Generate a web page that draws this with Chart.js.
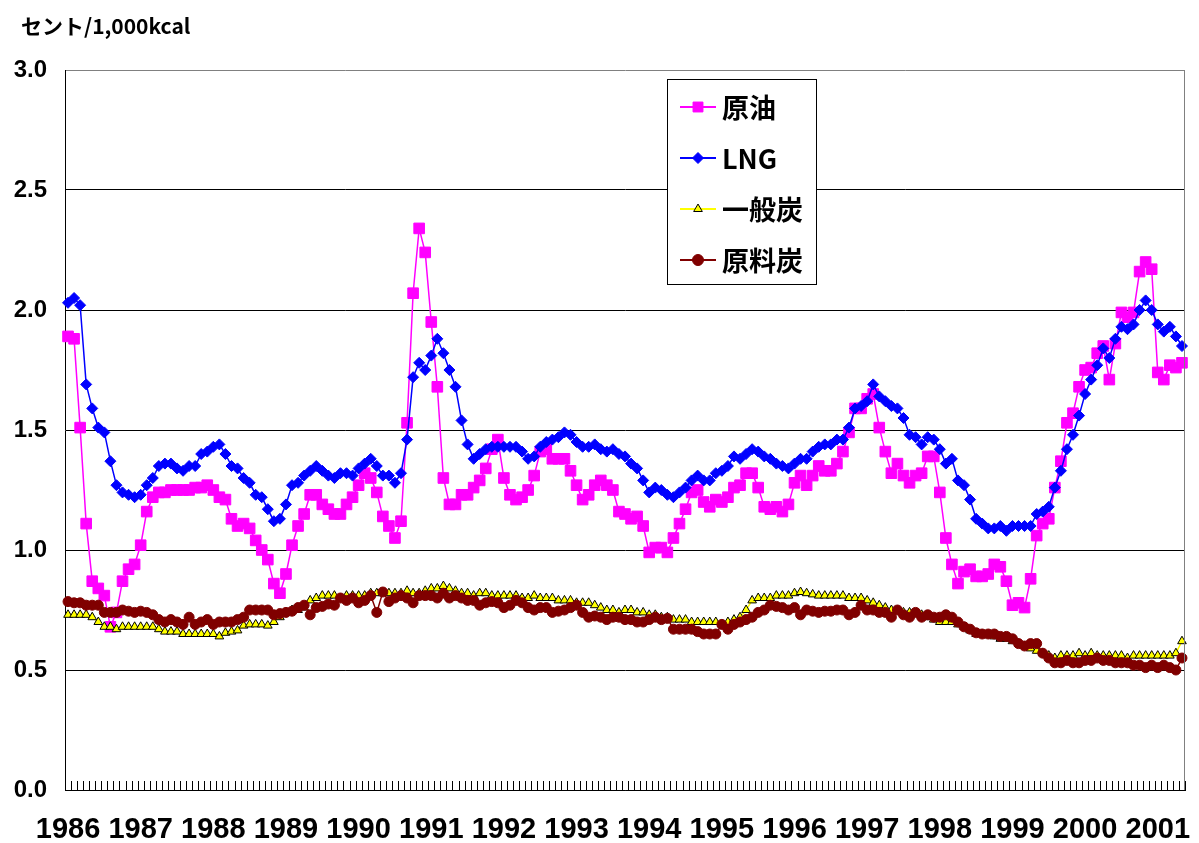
<!DOCTYPE html>
<html>
<head>
<meta charset="utf-8">
<script src="https://cdn.jsdelivr.net/npm/chart.js@4.4.1/dist/chart.umd.min.js"></script>
<style>
html,body{margin:0;padding:0;background:#ffffff;}
#wrap{width:1199px;height:843px;position:relative;}
</style>
</head>
<body>
<div id="wrap"><canvas id="c" width="1199" height="843"></canvas></div>
<script>
// ---- tick labels / categories ----
const yearLabels = ['1986','1987','1988','1989','1990','1991','1992','1993','1994','1995','1996','1997','1998','1999','2000','2001'];
const monthsPerYear = [12,12,12,12,12,12,12,12,12,12,12,12,12,12,12,5];
const unitLabel = 'セント/1,000kcal';
const seriesNames = ['原油', 'LNG', '一般炭', '原料炭'];

// ---- series values (cents / 1,000kcal), monthly from Jan 1986 ----
const crudeOil = [
  1.89,1.88,1.51,1.11,0.87,0.84,0.81,0.68,0.74,0.87,0.92,0.94,
  1.02,1.16,1.22,1.24,1.24,1.25,1.25,1.25,1.25,1.26,1.26,1.27,
  1.25,1.22,1.21,1.13,1.10,1.11,1.09,1.04,1.00,0.96,0.86,0.82,
  0.90,1.02,1.10,1.15,1.23,1.23,1.19,1.17,1.15,1.15,1.19,1.22,
  1.27,1.32,1.30,1.24,1.14,1.10,1.05,1.12,1.53,2.07,2.34,2.24,
  1.95,1.68,1.30,1.19,1.19,1.23,1.23,1.26,1.29,1.34,1.42,1.46,
  1.30,1.23,1.21,1.22,1.25,1.31,1.41,1.42,1.38,1.38,1.38,1.33,
  1.27,1.21,1.23,1.27,1.29,1.27,1.25,1.16,1.15,1.13,1.14,1.10,
  0.99,1.01,1.01,0.99,1.05,1.11,1.17,1.24,1.25,1.20,1.18,1.21,
  1.20,1.22,1.26,1.27,1.32,1.32,1.26,1.18,1.17,1.18,1.16,1.19,
  1.28,1.31,1.27,1.31,1.35,1.33,1.33,1.36,1.41,1.49,1.59,1.59,
  1.63,1.65,1.51,1.41,1.32,1.36,1.31,1.28,1.31,1.32,1.39,1.39,
  1.24,1.05,0.94,0.86,0.91,0.92,0.89,0.89,0.90,0.94,0.93,0.87,
  0.77,0.78,0.76,0.88,1.06,1.11,1.13,1.26,1.37,1.53,1.57,1.68,
  1.75,1.76,1.82,1.85,1.71,1.86,1.99,1.97,1.99,2.16,2.20,2.17,
  1.74,1.71,1.77,1.76,1.78
];
const lng = [
  2.03,2.05,2.02,1.69,1.59,1.51,1.49,1.37,1.27,1.24,1.23,1.22,
  1.23,1.27,1.30,1.35,1.36,1.36,1.34,1.33,1.35,1.35,1.40,1.41,
  1.43,1.44,1.40,1.35,1.34,1.30,1.28,1.23,1.22,1.17,1.12,1.13,
  1.19,1.27,1.28,1.31,1.33,1.35,1.33,1.31,1.30,1.32,1.32,1.31,
  1.34,1.36,1.38,1.35,1.31,1.31,1.28,1.32,1.46,1.72,1.78,1.75,
  1.81,1.88,1.82,1.75,1.68,1.54,1.44,1.38,1.40,1.42,1.43,1.43,
  1.43,1.43,1.43,1.41,1.38,1.39,1.43,1.45,1.46,1.47,1.49,1.48,
  1.45,1.43,1.43,1.44,1.42,1.41,1.42,1.40,1.39,1.36,1.34,1.29,
  1.24,1.26,1.25,1.23,1.22,1.24,1.26,1.29,1.31,1.29,1.29,1.32,
  1.33,1.35,1.39,1.38,1.40,1.42,1.41,1.39,1.38,1.36,1.35,1.34,
  1.36,1.38,1.38,1.41,1.43,1.44,1.44,1.46,1.46,1.51,1.59,1.60,
  1.62,1.69,1.64,1.62,1.60,1.59,1.55,1.48,1.47,1.44,1.47,1.46,
  1.42,1.36,1.38,1.29,1.27,1.21,1.13,1.11,1.09,1.09,1.10,1.08,
  1.10,1.10,1.10,1.10,1.15,1.16,1.18,1.26,1.33,1.42,1.48,1.56,
  1.65,1.71,1.77,1.84,1.80,1.88,1.93,1.92,1.94,2.00,2.04,2.00,
  1.94,1.91,1.93,1.89,1.85
];
const steamCoal = [
  0.73,0.73,0.73,0.73,0.72,0.70,0.68,0.68,0.67,0.68,0.68,0.68,
  0.68,0.68,0.68,0.67,0.66,0.66,0.66,0.65,0.65,0.65,0.65,0.65,
  0.65,0.64,0.655,0.66,0.665,0.685,0.69,0.69,0.69,0.685,0.70,0.72,
  0.74,0.75,0.75,0.76,0.79,0.80,0.81,0.81,0.81,0.80,0.81,0.81,
  0.81,0.81,0.82,0.82,0.82,0.82,0.82,0.82,0.83,0.82,0.82,0.83,
  0.84,0.84,0.85,0.84,0.83,0.82,0.82,0.81,0.82,0.82,0.81,0.81,
  0.81,0.81,0.81,0.80,0.80,0.81,0.80,0.80,0.80,0.79,0.79,0.79,
  0.78,0.78,0.78,0.77,0.76,0.75,0.75,0.74,0.75,0.75,0.74,0.74,
  0.73,0.73,0.72,0.72,0.71,0.71,0.71,0.70,0.70,0.70,0.70,0.70,
  0.69,0.70,0.71,0.72,0.75,0.79,0.80,0.80,0.80,0.81,0.81,0.81,
  0.82,0.825,0.82,0.815,0.81,0.81,0.81,0.81,0.81,0.80,0.80,0.80,
  0.79,0.78,0.77,0.76,0.75,0.745,0.74,0.74,0.735,0.73,0.72,0.71,
  0.70,0.70,0.70,0.69,0.68,0.665,0.65,0.65,0.645,0.64,0.63,0.63,
  0.62,0.61,0.60,0.59,0.58,0.57,0.56,0.55,0.56,0.56,0.56,0.57,
  0.56,0.57,0.56,0.56,0.56,0.56,0.56,0.55,0.56,0.56,0.56,0.56,
  0.56,0.56,0.56,0.57,0.62
];
const cokingCoal = [
  0.785,0.78,0.78,0.77,0.77,0.77,0.74,0.74,0.74,0.75,0.745,0.74,
  0.745,0.74,0.73,0.71,0.70,0.71,0.70,0.69,0.72,0.69,0.70,0.71,
  0.69,0.70,0.70,0.70,0.71,0.72,0.75,0.75,0.75,0.75,0.73,0.735,
  0.74,0.745,0.76,0.77,0.73,0.76,0.765,0.775,0.77,0.80,0.79,0.80,
  0.78,0.79,0.81,0.74,0.825,0.785,0.80,0.81,0.80,0.78,0.81,0.81,
  0.81,0.80,0.82,0.80,0.81,0.80,0.79,0.79,0.77,0.78,0.785,0.78,
  0.76,0.77,0.79,0.78,0.76,0.75,0.76,0.76,0.74,0.745,0.75,0.76,
  0.77,0.74,0.72,0.725,0.72,0.71,0.72,0.72,0.71,0.71,0.70,0.70,
  0.71,0.72,0.71,0.715,0.67,0.67,0.67,0.67,0.66,0.65,0.65,0.65,
  0.69,0.67,0.69,0.70,0.71,0.72,0.74,0.75,0.77,0.765,0.76,0.75,
  0.76,0.73,0.75,0.745,0.74,0.745,0.745,0.75,0.75,0.73,0.74,0.77,
  0.75,0.75,0.74,0.74,0.72,0.75,0.73,0.72,0.74,0.72,0.73,0.72,
  0.72,0.73,0.72,0.70,0.68,0.67,0.655,0.65,0.65,0.65,0.64,0.64,
  0.63,0.61,0.60,0.61,0.61,0.57,0.55,0.53,0.53,0.54,0.53,0.53,
  0.54,0.54,0.55,0.54,0.54,0.53,0.53,0.53,0.52,0.52,0.51,0.52,
  0.51,0.52,0.51,0.50,0.55
];

// ---- categories built from the tick labels (one per month) ----
const categories = [];
yearLabels.forEach((y, k) => {
  for (let m = 1; m <= monthsPerYear[k]; m++) categories.push(y + '/' + m);
});
const yearStart = {};
{ let idx = 0; yearLabels.forEach((y, k) => { yearStart[idx] = y; idx += monthsPerYear[k]; }); }

const JP = "'Noto Sans CJK JP', 'Noto Sans', sans-serif";
const LAT = "'Liberation Sans', Arial, sans-serif";

// ---- plugin: right frame, inner month ticks, unit label, boxed legend ----
const framePlugin = {
  id: 'frame',
  afterDatasetsDraw(chart) {
    const ctx = chart.ctx, a = chart.chartArea, xs = chart.scales.x;
    ctx.save();
    ctx.strokeStyle = '#808080'; ctx.lineWidth = 1;
    ctx.beginPath();
    ctx.moveTo(Math.round(a.right) - 0.5, a.top);
    ctx.lineTo(Math.round(a.right) - 0.5, a.bottom);
    ctx.stroke();
    const n = xs.getLabels().length;
    ctx.strokeStyle = '#000';
    ctx.beginPath();
    for (let i = 0; i <= n; i++) {
      const x = Math.round(xs.left + (xs.right - xs.left) * i / n) + 0.5;
      ctx.moveTo(x, a.bottom - 9);
      ctx.lineTo(x, a.bottom);
    }
    ctx.stroke();
    ctx.fillStyle = '#000';
    ctx.font = 'bold 21px ' + JP;
    ctx.textBaseline = 'middle';
    ctx.textAlign = 'left';
    ctx.fillText(unitLabel, 21, 26);
    const bx = 667, by = 79, bw = 149, bh = 205;
    ctx.fillStyle = '#fff';
    ctx.fillRect(bx, by, bw, bh);
    ctx.strokeStyle = '#000'; ctx.lineWidth = 1;
    ctx.strokeRect(bx + 0.5, by + 0.5, bw, bh);
    const rowY = [107, 158, 209, 260];
    chart.data.datasets.forEach((ds, i) => {
      const y = rowY[i];
      ctx.strokeStyle = ds.borderColor; ctx.lineWidth = 2;
      ctx.beginPath(); ctx.moveTo(680, y); ctx.lineTo(716, y); ctx.stroke();
      ctx.fillStyle = ds.pointBackgroundColor;
      ctx.strokeStyle = ds.pointBorderColor;
      ctx.lineWidth = ds.pointBorderWidth;
      Chart.helpers.drawPoint(ctx, {pointStyle: ds.pointStyle, radius: ds.legendRadius, rotation: 0, borderWidth: ds.pointBorderWidth}, 698, y);
      ctx.fillStyle = '#000';
      ctx.font = 'bold 27px ' + JP;
      ctx.textBaseline = 'middle';
      ctx.textAlign = 'left';
      ctx.fillText(ds.label, 722, y + 1);
    });
    ctx.restore();
  }
};

const chart = new Chart(document.getElementById('c'), {
  type: 'line',
  data: {
    labels: categories,
    datasets: [
      {label: seriesNames[0], data: crudeOil, borderColor: '#FF00FF', backgroundColor: '#FF00FF',
       pointBackgroundColor: '#FF00FF', pointBorderColor: '#FF00FF', pointStyle: 'rect',
       pointRadius: 7.5, pointBorderWidth: 1, legendRadius: 7, borderWidth: 1.5, order: 4},
      {label: seriesNames[1], data: lng, borderColor: '#0000FF', backgroundColor: '#0000FF',
       pointBackgroundColor: '#0000FF', pointBorderColor: '#0000FF', pointStyle: 'rectRot',
       pointRadius: 5.5, pointBorderWidth: 1, legendRadius: 5.5, borderWidth: 1.5, order: 3},
      {label: seriesNames[2], data: steamCoal, borderColor: '#FFFF00', backgroundColor: '#FFFF00',
       pointBackgroundColor: '#FFFF00', pointBorderColor: '#000000', pointStyle: 'triangle',
       pointRadius: 5, pointBorderWidth: 1, legendRadius: 5, borderWidth: 1.5, order: 2},
      {label: seriesNames[3], data: cokingCoal, borderColor: '#800000', backgroundColor: '#800000',
       pointBackgroundColor: '#800000', pointBorderColor: '#800000', pointStyle: 'circle',
       pointRadius: 5, pointBorderWidth: 1, legendRadius: 5.5, borderWidth: 1.5, order: 1}
    ]
  },
  options: {
    responsive: false,
    animation: false,
    devicePixelRatio: 1,
    clip: false,
    layout: {padding: {top: 70, right: 14, bottom: 0, left: 0}},
    plugins: {legend: {display: false}, tooltip: {enabled: false}, title: {display: false}},
    elements: {line: {tension: 0}},
    scales: {
      x: {
        type: 'category',
        offset: true,
        grid: {display: false, drawTicks: false},
        border: {display: true, color: '#000', width: 1},
        ticks: {
          autoSkip: false, maxRotation: 0, minRotation: 0, padding: 23,
          color: '#000', font: {family: LAT, size: 29, weight: 'bold'},
          callback: function(v, i) { return (i in yearStart) ? yearStart[i] : ''; }
        },
        afterFit: function(s) { s.height = 53; s.paddingLeft = 0; s.paddingRight = 0; }
      },
      y: {
        min: 0, max: 3,
        grid: {color: (c) => (c.tick && c.tick.value === 3) ? '#808080' : '#000', lineWidth: 1, drawTicks: false},
        border: {display: true, color: '#000', width: 1},
        ticks: {stepSize: 0.5, padding: 18, color: '#000', font: {family: LAT, size: 24, weight: 'bold'},
                callback: (v) => Number(v).toFixed(1)},
        afterFit: function(s) { s.width = 65; s.paddingTop = 0; s.paddingBottom = 0; }
      }
    }
  },
  plugins: [framePlugin]
});
</script>
</body>
</html>
